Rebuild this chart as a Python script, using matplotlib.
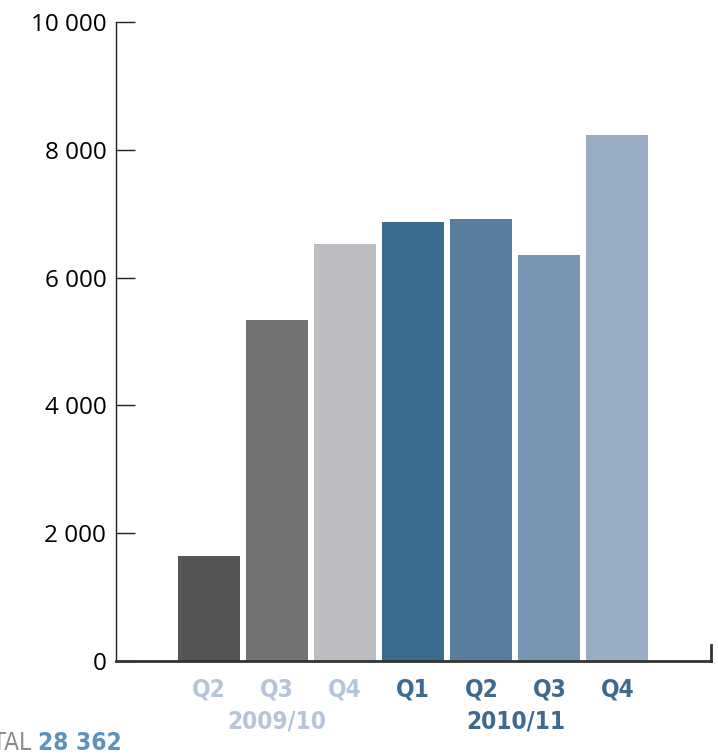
import matplotlib.pyplot as plt

quarters = ['Q2', 'Q3', 'Q4', 'Q1', 'Q2', 'Q3', 'Q4']
years = ['2009/10', '2010/11']
values = [1645, 5340, 6530, 6870, 6915, 6355, 8232]
bar_colors = ['#555555', '#727272', '#bcbdc1', '#3b6b8c', '#577e9e', '#7695b0', '#98adc3']
label_colors = ['#b5c5d7'] * 3 + ['#3d6a8e'] * 4
total_label = 'TOTAL'
total_value = '28 362'

cond = dict(family='DejaVu Sans', stretch='condensed')

W, H = 718, 755
fig = plt.figure(figsize=(W / 100, H / 100), dpi=100)
ax = fig.add_axes([116 / W, (H - 661) / H, (710.5 - 116) / W, (661 - 22) / H])

x = list(range(len(values)))
ax.bar(x, values, width=0.912, color=bar_colors)
ax.set_xlim(-1.368, 7.368)
ax.set_ylim(0, 10000)

ax.set_yticks([0, 2000, 4000, 6000, 8000, 10000])
ax.set_yticklabels(['0', '2 000', '4 000', '6 000', '8 000', '10 000'],
                   fontfamily='Open Sans', fontsize=17.5)
ax.tick_params(axis='y', direction='in', length=14, width=1, pad=7, color='#222222')
ax.set_xticks([])

ax.spines['top'].set_visible(False)
ax.spines['left'].set_linewidth(1)
ax.spines['left'].set_color('#222222')
ax.spines['bottom'].set_linewidth(2)
ax.spines['bottom'].set_color('#333333')
ax.spines['right'].set_bounds(0, 250)
ax.spines['right'].set_linewidth(2)
ax.spines['right'].set_color('#333333')

fs = 17.5
for i, q in enumerate(quarters):
    ax.text(i, -440, q, ha='center', va='center', fontsize=fs, fontweight='bold',
            color=label_colors[i], **cond)
ax.text(1, -940, years[0], ha='center', va='center', fontsize=fs, fontweight='bold',
        color=label_colors[0], **cond)
ax.text(4.5, -940, years[1], ha='center', va='center', fontsize=fs, fontweight='bold',
        color=label_colors[-1], **cond)

fig.text(31 / W, 1 - 743 / H, total_label, ha='right', va='center', fontsize=fs,
         color='#8a8a8a', **cond)
fig.text(38 / W, 1 - 743 / H, total_value, ha='left', va='center', fontsize=fs,
         fontweight='bold', color='#5b93bd', **cond)

fig.savefig('out.png', dpi=100)
